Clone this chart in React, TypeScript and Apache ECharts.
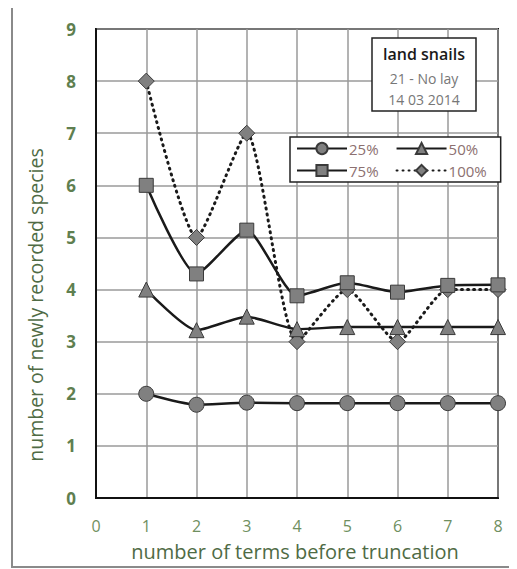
import React, { useEffect, useRef } from "react";
import * as echarts from "echarts";

const xValues = [1, 2, 3, 4, 5, 6, 7, 8];
const s25 = [2.0, 1.79, 1.83, 1.82, 1.82, 1.82, 1.82, 1.82];
const s50 = [4.0, 3.22, 3.48, 3.24, 3.28, 3.28, 3.28, 3.28];
const s75 = [6.0, 4.3, 5.14, 3.88, 4.13, 3.95, 4.08, 4.09];
const s100 = [8, 5, 7, 3, 4, 3, 4, 4];
const seriesNames = ["25%", "50%", "75%", "100%"];
const titleLines = ["land snails", "21 - No lay", "14 03 2014"];
const xAxisTitle = "number of terms before truncation";
const yAxisTitle = "number of newly recorded species";

const FONT = "'Open Sans', 'Noto Sans', sans-serif";

export default function App() {
  const ref = useRef<HTMLDivElement>(null);
  useEffect(() => {
    if (!ref.current) return;
    const chart = echarts.init(ref.current, null, { renderer: "svg" });
    const mk = (vals: number[]) => vals.map((v, i) => [xValues[i], v]);
    const markerStyle = { color: "#808080", borderColor: "#3a3a3a", borderWidth: 1 };
    const lineBase = { color: "#1a1a1a", width: 2.5 };
    chart.setOption({
      animation: false,
      backgroundColor: "#ffffff",
      textStyle: { fontFamily: FONT },
      grid: {
        left: 96,
        right: 19,
        top: 29,
        bottom: 71,
        show: true,
        borderColor: "#111",
        borderWidth: 2,
        backgroundColor: "transparent",
      },
      xAxis: {
        type: "value",
        min: 0,
        max: 8,
        interval: 1,
        axisLine: { show: true, lineStyle: { color: "#111", width: 2 } },
        axisTick: { show: false },
        splitLine: { show: true, lineStyle: { color: "#9a9a9a", width: 1.5 } },
        axisLabel: { color: "#6f8f60", fontSize: 16, margin: 20, fontFamily: FONT },
      },
      yAxis: {
        type: "value",
        min: 0,
        max: 9,
        interval: 1,
        axisLine: { show: true, lineStyle: { color: "#111", width: 2 } },
        axisTick: { show: false },
        splitLine: { show: true, lineStyle: { color: "#9a9a9a", width: 1.5 } },
        axisLabel: { color: "#5f7f50", fontSize: 17, margin: 20, fontWeight: "bold", fontFamily: FONT },
      },
      legend: {
        left: 290,
        top: 137,
        width: 205,
        padding: [3, 2, 3, 6],
        itemGap: 5,
        itemWidth: 50,
        itemHeight: 14,
        backgroundColor: "#ffffff",
        borderColor: "#222",
        borderWidth: 1.5,
        borderRadius: 0,
        textStyle: { color: "#8c7070", fontSize: 15, fontFamily: FONT, padding: [0, 12, 0, -3], lineHeight: 17 },
        data: seriesNames,
      },
      graphic: [
        {
          type: "rect",
          shape: { x: 12, y: 5, width: 520, height: 562 },
          style: { fill: "none", stroke: "#8a8a8a", lineWidth: 2 },
          silent: true,
          z: -10,
        },
        {
          type: "rect",
          shape: { x: 372, y: 38, width: 104, height: 73 },
          style: { fill: "#ffffff", stroke: "#222", lineWidth: 1.5 },
          z: 50,
        },
        {
          type: "text",
          x: 424,
          y: 54,
          style: { text: titleLines[0], fill: "#1a1a1a", fontSize: 16, fontWeight: 600, fontFamily: FONT, align: "center", verticalAlign: "middle" },
          z: 51,
        },
        {
          type: "text",
          x: 424,
          y: 78,
          style: { text: titleLines[1], fill: "#777", fontSize: 14, fontFamily: FONT, align: "center", verticalAlign: "middle" },
          z: 51,
        },
        {
          type: "text",
          x: 424,
          y: 99,
          style: { text: titleLines[2], fill: "#777", fontSize: 14, fontFamily: FONT, align: "center", verticalAlign: "middle" },
          z: 51,
        },
        {
          type: "text",
          x: 35,
          y: 305,
          rotation: Math.PI / 2,
          style: { text: yAxisTitle, fill: "#4f6b45", fontSize: 19.5, fontFamily: FONT, align: "center", verticalAlign: "middle" },
        },
        {
          type: "text",
          x: 295,
          y: 551,
          style: { text: xAxisTitle, fill: "#4f6b45", fontSize: 20, fontFamily: FONT, align: "center", verticalAlign: "middle" },
        },
      ],
      series: [
        {
          name: seriesNames[0],
          type: "line",
          data: mk(s25),
          smooth: 0.2,
          symbol: "circle",
          symbolSize: 15,
          lineStyle: lineBase,
          itemStyle: markerStyle,
          z: 4,
        },
        {
          name: seriesNames[1],
          type: "line",
          data: mk(s50),
          smooth: 0.2,
          symbol: "triangle",
          symbolSize: 15,
          lineStyle: lineBase,
          itemStyle: markerStyle,
          z: 4,
        },
        {
          name: seriesNames[2],
          type: "line",
          data: mk(s75),
          smooth: 0.2,
          symbol: "rect",
          symbolSize: 14,
          lineStyle: lineBase,
          itemStyle: markerStyle,
          z: 4,
        },
        {
          name: seriesNames[3],
          type: "line",
          data: mk(s100),
          smooth: 0.2,
          symbol: "diamond",
          symbolSize: 16,
          lineStyle: { color: "#1a1a1a", width: 3, type: [1, 5], cap: "round" },
          itemStyle: markerStyle,
          z: 3,
        },
      ],
    });
    return () => chart.dispose();
  }, []);
  return <div ref={ref} style={{ width: 517, height: 569, marginLeft: -8, marginTop: -8 }} />;
}
